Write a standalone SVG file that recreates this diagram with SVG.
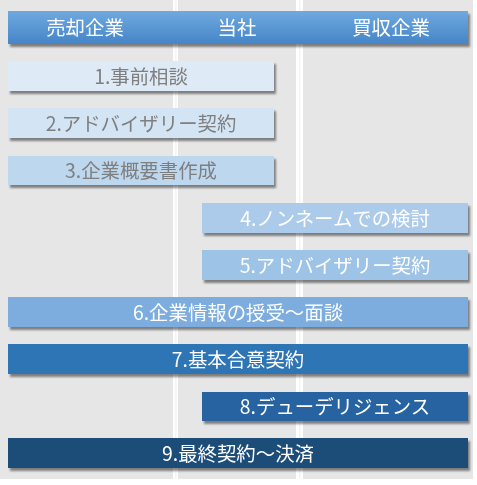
<svg xmlns="http://www.w3.org/2000/svg" width="477" height="485" viewBox="0 0 477 485">
<defs>
<linearGradient id="hdr" x1="0" y1="0" x2="0" y2="1">
<stop offset="0" stop-color="#6fa9df"/>
<stop offset="1" stop-color="#4585c8"/>
</linearGradient>
<filter id="sh" x="-5%" y="-20%" width="115%" height="160%">
<feDropShadow dx="2" dy="3" stdDeviation="1.3" flood-color="#000" flood-opacity="0.45"/>
</filter>
</defs>
<style>
text{font-family:"Noto Sans CJK JP","Noto Sans",sans-serif;font-size:19.4px;text-anchor:middle;dominant-baseline:central}
.g{fill:#7f7f7f}
.w{fill:#ffffff}
.lane{fill:#e6e6e6}
.sep{fill:#f4f4f4}
</style>
<rect width="477" height="485" fill="#ffffff"/>
<g id="lanes">
<rect class="lane" x="0" y="0" width="173" height="479"/>
<rect class="lane" x="178" y="0" width="118" height="479"/>
<rect class="lane" x="303" y="0" width="170" height="479"/>
<rect class="sep" x="175" y="0" width="1.5" height="479"/>
<rect class="sep" x="299" y="0" width="1.5" height="479"/>
</g>
<g id="header" filter="url(#sh)">
<rect x="8" y="11" width="460" height="33" fill="url(#hdr)"/>
<text class="w" x="85" y="26.5">売却企業</text>
<text class="w" x="237" y="26.5">当社</text>
<text class="w" x="391" y="26.5">買収企業</text>
</g>
<g id="connectors"></g>
<g id="n1" filter="url(#sh)"><rect x="8" y="61" width="266" height="30" fill="#deebf7"/><text class="g" x="141" y="75">1.事前相談</text></g>
<g id="n2" filter="url(#sh)"><rect x="8" y="108" width="266" height="30" fill="#d3e4f4"/><text class="g" x="141" y="122">2.アドバイザリー契約</text></g>
<g id="n3" filter="url(#sh)"><rect x="8" y="156" width="266" height="29" fill="#bdd7ee"/><text class="g" x="141" y="169.5">3.企業概要書作成</text></g>
<g id="n4" filter="url(#sh)"><rect x="202" y="203" width="266" height="30" fill="#accbea"/><text class="w" x="335" y="217">4.ノンネームでの検討</text></g>
<g id="n5" filter="url(#sh)"><rect x="202" y="250" width="266" height="30" fill="#9dc3e6"/><text class="w" x="335" y="264">5.アドバイザリー契約</text></g>
<g id="n6" filter="url(#sh)"><rect x="8" y="297" width="460" height="30" fill="#7badde"/><text class="w" x="238" y="311">6.企業情報の授受～面談</text></g>
<g id="n7" filter="url(#sh)"><rect x="8" y="344" width="460" height="30" fill="#2e75b6"/><text class="w" x="238" y="358">7.基本合意契約</text></g>
<g id="n8" filter="url(#sh)"><rect x="202" y="392" width="266" height="29" fill="#2864a0"/><text class="w" x="335" y="405.5">8.デューデリジェンス</text></g>
<g id="n9" filter="url(#sh)"><rect x="8" y="438" width="460" height="30" fill="#1f4e79"/><text class="w" x="238" y="452">9.最終契約～決済</text></g>
</svg>
